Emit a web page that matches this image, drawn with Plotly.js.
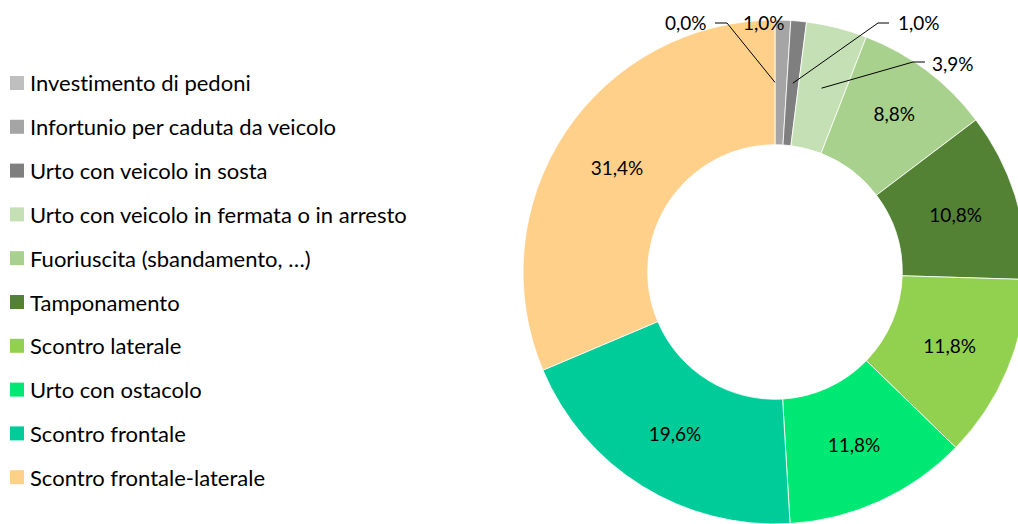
<!DOCTYPE html>
<html><head><meta charset="utf-8">
<script src="https://cdn.plot.ly/plotly-3.0.1.min.js"></script>
<style>html,body{margin:0;padding:0;overflow:hidden;background:#fff}
text{font-variant-ligatures:none;font-feature-settings:"liga" 0,"clig" 0;}</style>
</head><body><div id="chart" style="width:1040px;height:524px"></div>
<script>
// ---- data ----
const categories = [
  "Investimento di pedoni",
  "Infortunio per caduta da veicolo",
  "Urto con veicolo in sosta",
  "Urto con veicolo in fermata o in arresto",
  "Fuoriuscita (sbandamento, …)",
  "Tamponamento",
  "Scontro laterale",
  "Urto con ostacolo",
  "Scontro frontale",
  "Scontro frontale-laterale"
];
const values = [0.0, 1.0, 1.0, 3.9, 8.8, 10.8, 11.8, 11.8, 19.6, 31.4];

// ---- styles ----
const colors = ["#BFBFBF","#A5A5A5","#7F7F7F","#C5E0B4","#A9D18E","#548235","#92D050","#00E874","#00CC99","#FFD08A"];
const FONT = "Lato, 'Open Sans', sans-serif";
const W = 1040, H = 524;
const cx = 775, cy = 272, R = 252, HOLE = 0.505;
const smallLimit = 5;
// outside label placement (pixels) for small slices: text centre, elbow start/end
const outside = {
  0: {tx: 686, ty: 23, e1: 715, e2: 727, ey: 23},
  1: {tx: 764, ty: 23},
  2: {tx: 919, ty: 23, e1: 889, e2: 878, ey: 23},
  3: {tx: 953, ty: 63, e1: 925, e2: 913, ey: 62}
};

const fmt = v => v.toFixed(1).replace('.', ',') + '%';
const px = x => x / W;
const py = y => 1 - y / H;

const total = values.reduce((a, b) => a + b, 0);
const insideText = values.map(v => v >= smallLimit ? fmt(v) : '');

const trace = {
  type: 'pie',
  labels: categories,
  values: values,
  sort: false,
  direction: 'clockwise',
  rotation: 0,
  hole: HOLE,
  marker: {colors: colors, line: {color: '#FFFFFF', width: 0.8}},
  text: insideText,
  textinfo: 'text',
  textposition: 'inside',
  insidetextorientation: 'horizontal',
  textfont: {family: FONT, size: 19, color: '#000000'},
  hoverinfo: 'none',
  showlegend: false,
  domain: {x: [(cx - R) / W, (cx + R) / W], y: [(H - cy - R) / H, (H - cy + R) / H]}
};

const annotations = [];
const shapes = [];

// leader lines & outside labels for small slices, anchored at slice mid-angle
let cum = 0;
values.forEach((v, i) => {
  const mid = (cum + v / 2) / total * 2 * Math.PI;
  cum += v;
  const o = outside[i];
  if (!o) return;
  annotations.push({
    xref: 'paper', yref: 'paper', x: px(o.tx), y: py(o.ty),
    xanchor: 'center', yanchor: 'middle', showarrow: false,
    text: fmt(v), font: {family: FONT, size: 19, color: '#000000'}
  });
  if (o.e1 !== undefined) {
    const rA = R * (1 + HOLE) / 2;
    const ax = cx + rA * Math.sin(mid), ay = cy - rA * Math.cos(mid);
    shapes.push({
      type: 'path', xref: 'paper', yref: 'paper',
      path: `M ${px(o.e1)},${py(o.ey)} L ${px(o.e2)},${py(o.ey)} L ${px(ax)},${py(ay)}`,
      line: {color: '#000000', width: 1}
    });
  }
});

// manual legend
const legX = 10, legSq = 14, legY0 = 83, legStep = 43.8;
categories.forEach((c, i) => {
  const y = legY0 + i * legStep;
  shapes.push({
    type: 'rect', xref: 'paper', yref: 'paper',
    x0: px(legX), x1: px(legX + legSq), y0: py(y - legSq / 2), y1: py(y + legSq / 2),
    fillcolor: colors[i], line: {width: 0}
  });
  annotations.push({
    xref: 'paper', yref: 'paper', x: px(legX + legSq + 4), y: py(y),
    xanchor: 'left', yanchor: 'middle', showarrow: false,
    text: c, font: {family: FONT, size: 22, color: '#000000'}
  });
});

const layout = {
  width: W, height: H,
  margin: {l: 0, r: 0, t: 0, b: 0},
  paper_bgcolor: '#FFFFFF',
  showlegend: false,
  annotations: annotations,
  shapes: shapes
};

Plotly.newPlot('chart', [trace], layout, {displayModeBar: false, staticPlot: true});
</script>
</body></html>
